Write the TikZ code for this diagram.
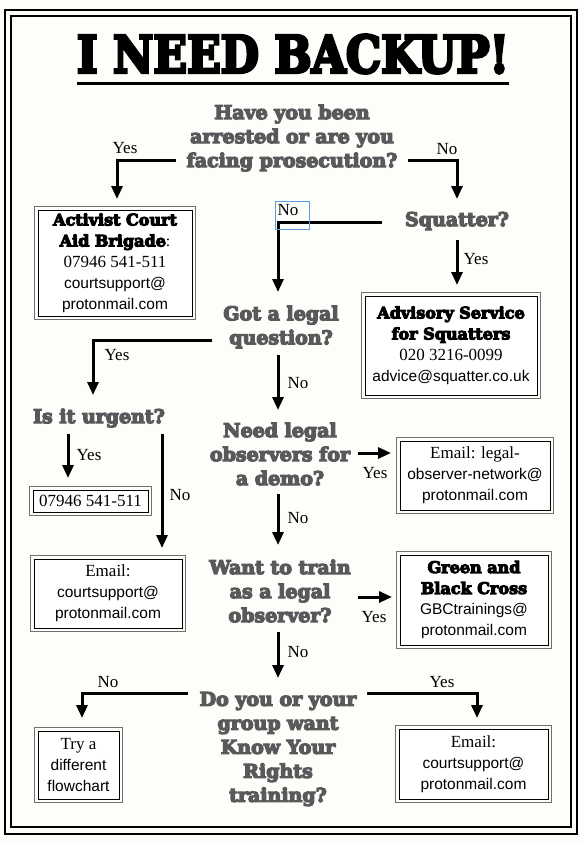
\documentclass[tikz,border=0pt]{standalone}
\usepackage{fontspec}
\setmainfont{Liberation Serif}
\newfontfamily\sansf{Liberation Sans}
\newfontfamily\slabf{DejaVu Serif}[BoldFeatures={FakeBold=6.5}]
\newfontfamily\titlef{DejaVu Serif}[BoldFeatures={FakeBold=6}]
\usetikzlibrary{arrows.meta}
\definecolor{qgray}{HTML}{58595B}
\definecolor{bgpaper}{HTML}{FDFDFA}
\definecolor{selblue}{HTML}{5B9BE0}
\definecolor{framegray}{HTML}{707070}
\newcommand{\dblbox}[6]{%
  \node[boxstyle, minimum width={#4-#2-6}, minimum height={#5-#3-6}] (#1) at ({(#2+#4)/2},{(#3+#5)/2}) {#6};
  \draw[outerframe] ([xshift=-3pt,yshift=3pt]#1.north west) rectangle ([xshift=3pt,yshift=-3pt]#1.south east);
}
\begin{document}
\begin{tikzpicture}[x=1pt,y=-1pt,
  question/.style={font=\slabf\bfseries\fontsize{19}{24}\selectfont, text=qgray, align=center, inner sep=0pt},
  lbl/.style={font=\fontsize{17}{20}\selectfont, inner sep=0pt},
  boxstyle/.style={draw=black, line width=1pt, fill=white, align=center, inner sep=0pt, font=\fontsize{16}{21}\selectfont},
  outerframe/.style={draw=framegray, line width=1.8pt},
  arr/.style={line width=3pt, -{Triangle[length=13pt,width=11pt]}}
]
\useasboundingbox (0,0) rectangle (584,844);
\fill[bgpaper] (0,0) rectangle (584,844);
% frame
\draw[line width=2.8pt] (5,10) rectangle (577,834);
\draw[line width=1.6pt] (11,16) rectangle (571,827);
% title
\node[inner sep=0pt] (title) at (293,54) {\resizebox{432pt}{38pt}{\titlef\bfseries I NEED BACKUP!}};
\draw[line width=3pt] (77,83) -- (509,83);

% questions
\node[question] (q1) at (292,138) {Have you been\\arrested or are you\\facing prosecution?};
\node[question] (sq) at (457,221) {Squatter?};
\node[question] (q2) at (281,327) {Got a legal\\question?};
\node[question] (urg) at (99,418) {Is it urgent?};
\node[question] (q3) at (280,454) {Need legal\\observers for\\a demo?};
\node[question] (q4) at (280,591) {Want to train\\as a legal\\observer?};
\node[question] (q5) at (278,749) {Do you or your\\group want\\Know Your\\Rights\\training?};

% boxes
\dblbox{b1}{35}{207}{195}{319}{{\slabf\bfseries Activist Court}\\{\slabf\bfseries Aid Brigade}:\\{\fontsize{17}{21}\selectfont 07946 541-511}\\{\sansf\fontsize{15.5}{21}\selectfont courtsupport@}\\{\sansf\fontsize{15.5}{21}\selectfont protonmail.com}}
\dblbox{b2}{362}{293}{540}{398}{{\slabf\bfseries Advisory Service}\\{\slabf\bfseries for Squatters}\\{\fontsize{17}{21}\selectfont 020 3216-0099}\\{\sansf\fontsize{15.5}{21}\selectfont advice@squatter.co.uk}}
\dblbox{b3}{30}{487}{151}{515}{{\fontsize{17}{21}\selectfont 07946 541-511}}
\dblbox{b4}{31}{556}{185}{631}{{\fontsize{17}{20}\selectfont Email:}\\{\sansf\fontsize{15.5}{20}\selectfont courtsupport@}\\{\sansf\fontsize{15.5}{20}\selectfont protonmail.com}}
\dblbox{b5}{397}{438}{553}{513}{{\fontsize{17}{20}\selectfont Email: legal-}\\{\sansf\fontsize{15.5}{20}\selectfont observer-network@}\\{\sansf\fontsize{15.5}{20}\selectfont protonmail.com}}
\dblbox{b6}{397}{552}{551}{648}{{\slabf\bfseries Green and}\\{\slabf\bfseries Black Cross}\\{\sansf\fontsize{15.5}{20}\selectfont GBCtrainings@}\\{\sansf\fontsize{15.5}{20}\selectfont protonmail.com}}
\dblbox{b7}{35}{728}{122}{802}{{\fontsize{17}{20}\selectfont Try a}\\{\sansf\fontsize{15.5}{20}\selectfont different}\\{\sansf\fontsize{15.5}{20}\selectfont flowchart}}
\dblbox{b8}{396}{726}{551}{802}{{\fontsize{17}{20}\selectfont Email:}\\{\sansf\fontsize{15.5}{20}\selectfont courtsupport@}\\{\sansf\fontsize{15.5}{20}\selectfont protonmail.com}}

% connector end points
\coordinate (c1s) at (176,160); \coordinate (c1e) at (117,199);
\coordinate (c2s) at (408,160); \coordinate (c2e) at (457,199);
\coordinate (c3s) at (382,222); \coordinate (c3e) at (278,292);
\coordinate (c4s) at (457,240); \coordinate (c4e) at (457,285);
\coordinate (c5s) at (212,340); \coordinate (c5e) at (93,395);
\coordinate (c6s) at (278,355); \coordinate (c6e) at (278,410);
\coordinate (c7s) at (68,434);  \coordinate (c7e) at (68,478);
\coordinate (c8s) at (162,434); \coordinate (c8e) at (162,548);
\coordinate (c9s) at (358,453); \coordinate (c9e) at (391,453);
\coordinate (c10s) at (278,494); \coordinate (c10e) at (278,545);
\coordinate (c11s) at (358,597); \coordinate (c11e) at (392,597);
\coordinate (c12s) at (278,632); \coordinate (c12e) at (278,678);
\coordinate (c13s) at (188,693); \coordinate (c13e) at (82,718);
\coordinate (c14s) at (367,693); \coordinate (c14e) at (477,718);

\draw[arr] (c1s) -| (c1e);
\draw[arr] (c2s) -| (c2e);
\draw[arr] (c3s) -| (c3e);
\draw[arr] (c4s) -- (c4e);
\draw[arr] (c5s) -| (c5e);
\draw[arr] (c6s) -- (c6e);
\draw[arr] (c7s) -- (c7e);
\draw[arr] (c8s) -- (c8e);
\draw[arr] (c9s) -- (c9e);
\draw[arr] (c10s) -- (c10e);
\draw[arr] (c11s) -- (c11e);
\draw[arr] (c12s) -- (c12e);
\draw[arr] (c13s) -| (c13e);
\draw[arr] (c14s) -| (c14e);

% labels
\node[lbl] (l1) at (125,148) {Yes};
\node[lbl] (l2) at (447,149) {No};
\node[lbl] (l3) at (288,210) {No};
\draw[selblue, line width=0.7pt] (275,201) rectangle (309,229);
\node[lbl] (l4) at (476,259) {Yes};
\node[lbl] (l5) at (117,355) {Yes};
\node[lbl] (l6) at (298,383) {No};
\node[lbl] (l7) at (89,455) {Yes};
\node[lbl] (l8) at (180,495) {No};
\node[lbl] (l9) at (375,473) {Yes};
\node[lbl] (l10) at (298,518) {No};
\node[lbl] (l11) at (374,617) {Yes};
\node[lbl] (l12) at (298,652) {No};
\node[lbl] (l13) at (108,682) {No};
\node[lbl] (l14) at (442,682) {Yes};
\end{tikzpicture}
\end{document}
